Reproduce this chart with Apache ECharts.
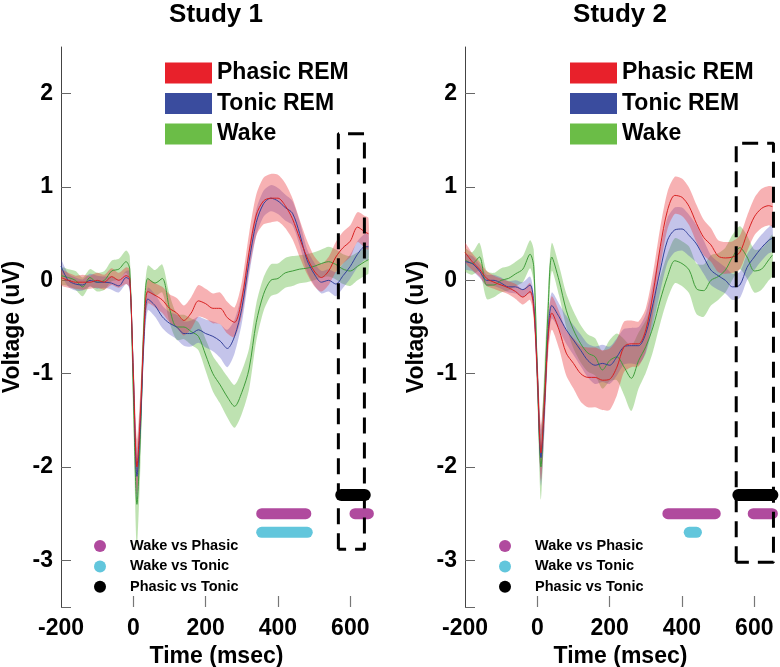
<!DOCTYPE html>
<html>
<head>
<meta charset="utf-8">
<script src="https://cdn.jsdelivr.net/npm/echarts@6/dist/echarts.min.js"></script>
<style>
html,body{margin:0;padding:0;background:#fff}
#chart{width:780px;height:667px}
</style>
</head>
<body>
<div id="chart"></div>
<script>
// time axis (msec), shared by both studies
const times = [-200,-180,-160,-140,-120,-100,-80,-60,-40,-20,-10,0,10,20,30,40,60,80,100,120,140,160,180,200,220,240,260,280,300,320,340,360,380,400,420,440,460,480,500,520,540,560,580,600,620,640,650]

// Study 1 means and SEM
const s1Phasic = [0.03,0.0,-0.02,-0.02,-0.02,0.0,-0.02,0.04,0.0,0.05, 0.02,-1.0,-2.0,-1.4,-0.5,-0.12, -0.16,-0.21,-0.3,-0.35,-0.43,-0.35,-0.22,-0.25,-0.3,-0.3,-0.4,-0.45, -0.2,0.3,0.7,0.85,0.88,0.88,0.8,0.66,0.45,0.25,0.1,0.03,0.1,0.25,0.35,0.42,0.57,0.52,0.5]
const s1PhasicSem = [0.08,0.08,0.07,0.08,0.07,0.08,0.08,0.09,0.08,0.09, 0.1,0.2,0.3,0.25,0.15,0.13, 0.13,0.14,0.15,0.16,0.16,0.17,0.17,0.16,0.16,0.17,0.17,0.16, 0.18,0.2,0.22,0.25,0.26,0.25,0.24,0.22,0.2,0.18,0.16,0.15,0.15,0.16,0.17,0.17,0.16,0.17,0.17]
const s1Tonic = [0.15,0.0,-0.04,-0.05,0.0,-0.02,-0.02,-0.03,-0.06,0.03, 0.0,-1.0,-2.1,-1.5,-0.6,-0.2, -0.27,-0.39,-0.46,-0.5,-0.57,-0.57,-0.53,-0.57,-0.6,-0.65,-0.73,-0.6, -0.3,0.2,0.62,0.82,0.88,0.85,0.78,0.72,0.5,0.22,0.07,-0.02,0.0,-0.04,0.05,0.15,0.28,0.36,0.36]
const s1TonicSem = [0.07,0.07,0.07,0.06,0.07,0.07,0.06,0.07,0.07,0.07, 0.1,0.2,0.3,0.25,0.14,0.12, 0.12,0.12,0.12,0.13,0.13,0.14,0.14,0.15,0.16,0.18,0.2,0.18, 0.16,0.15,0.14,0.14,0.14,0.14,0.14,0.13,0.13,0.12,0.12,0.12,0.12,0.13,0.13,0.13,0.14,0.14,0.14]
const s1Wake = [0.05,0.03,0.0,-0.07,0.03,-0.02,0.0,0.1,0.12,0.2, 0.12,-1.2,-2.4,-1.6,-0.4,0.02, -0.03,0.02,-0.3,-0.5,-0.5,-0.55,-0.6,-0.8,-1.0,-1.12,-1.25,-1.35, -1.2,-0.95,-0.45,-0.15,0.0,0.02,0.08,0.1,0.12,0.13,0.15,0.18,0.2,0.17,0.12,0.1,0.15,0.2,0.22]
const s1WakeSem = [0.09,0.09,0.1,0.1,0.09,0.1,0.1,0.11,0.11,0.12, 0.14,0.3,0.45,0.35,0.18,0.14, 0.14,0.15,0.15,0.14,0.13,0.14,0.15,0.17,0.19,0.2,0.22,0.23, 0.23,0.22,0.2,0.18,0.17,0.16,0.16,0.16,0.15,0.15,0.15,0.15,0.16,0.16,0.16,0.16,0.15,0.15,0.15]

// Study 2 means and SEM
const s2Phasic = [0.3,0.2,0.12,0.02,-0.02,-0.05,-0.08,-0.12,-0.18,-0.12, -0.3,-1.0,-1.85,-1.3,-0.6,-0.35, -0.53,-0.78,-0.89,-1.0,-1.04,-1.04,-1.07,-1.06,-0.93,-0.71,-0.68,-0.68, -0.53,-0.14,0.36,0.75,0.91,0.89,0.79,0.61,0.46,0.38,0.26,0.24,0.25,0.3,0.5,0.68,0.77,0.8,0.79]
const s2PhasicSem = [0.1,0.09,0.08,0.08,0.07,0.07,0.07,0.08,0.08,0.09, 0.12,0.2,0.3,0.25,0.2,0.18, 0.2,0.24,0.27,0.3,0.32,0.32,0.32,0.33,0.3,0.27,0.25,0.24, 0.23,0.22,0.21,0.2,0.2,0.2,0.2,0.2,0.19,0.18,0.17,0.17,0.17,0.18,0.19,0.2,0.21,0.21,0.21]
const s2Tonic = [0.2,0.18,0.1,0.0,0.0,-0.03,-0.07,-0.07,-0.1,-0.05, -0.25,-1.0,-1.9,-1.35,-0.55,-0.27, -0.39,-0.53,-0.64,-0.75,-0.86,-0.91,-0.89,-0.91,-0.82,-0.71,-0.7,-0.7, -0.57,-0.25,0.11,0.43,0.54,0.55,0.48,0.39,0.25,0.11,0.05,0.0,-0.07,-0.05,0.14,0.25,0.35,0.43,0.45]
const s2TonicSem = [0.08,0.08,0.07,0.06,0.06,0.06,0.06,0.07,0.08,0.09, 0.1,0.2,0.3,0.25,0.16,0.14, 0.14,0.15,0.16,0.17,0.18,0.2,0.2,0.2,0.2,0.19,0.19,0.2, 0.21,0.22,0.23,0.24,0.24,0.23,0.22,0.2,0.18,0.16,0.15,0.14,0.14,0.14,0.14,0.14,0.14,0.14,0.14]
const s2Wake = [0.22,0.18,0.25,-0.05,-0.05,0.0,0.02,0.07,0.12,0.28, 0.15,-1.0,-2.0,-1.2,-0.3,0.25, 0.0,-0.32,-0.53,-0.68,-0.78,-0.82,-0.96,-0.86,-0.82,-0.93,-1.05,-0.86, -0.71,-0.5,-0.21,0.04,0.21,0.18,0.11,-0.09,-0.11,0.0,0.04,0.11,0.25,0.35,0.25,0.1,0.12,0.22,0.27]
const s2WakeSem = [0.12,0.12,0.15,0.15,0.13,0.13,0.13,0.13,0.14,0.15, 0.18,0.25,0.35,0.3,0.2,0.15, 0.16,0.18,0.2,0.2,0.2,0.2,0.2,0.22,0.25,0.3,0.35,0.3, 0.28,0.26,0.25,0.24,0.24,0.24,0.25,0.27,0.28,0.27,0.25,0.24,0.24,0.23,0.23,0.23,0.22,0.22,0.22]

// significant windows [from, to] in msec
const s1WakePhasic = [[355,477],[613,650]]
const s1WakeTonic = [[355,481]]
const s1PhasicTonic = [[575,640]]
const s2WakePhasic = [[361,492],[597,650]]
const s2WakeTonic = [[420,440]]
const s2PhasicTonic = [[556,650]]
// levels of the significance rows (uV)
const sigLevels = {'Phasic vs Tonic': -2.3, 'Wake vs Phasic': -2.5, 'Wake vs Tonic': -2.7}

// dashed windows [from, to, low, high]
const s1Window = [567, 639, -2.88, 1.57]
const s2Window = [550, 653, -3.02, 1.47]

const yTicks = [-3.5,-3,-2,-1,0,1,2]
const yLabels = [-3,-2,-1,0,1,2]
const xTicks = [0,200,400,600]
const xLabels = [-200,0,200,400,600]

const FONT = 'Liberation Sans, Arial, Helvetica, sans-serif'
const RED = '#e8212b', BLUE = '#3a4c9e', GREEN = '#6bbd47'
const MAG = '#b04a9e', CYAN = '#62c6dc'

// shaded mean +/- sem band, drawn as one polygon through the axis scales
function band(idx, mean, sem, fill) {
    return {type:'custom', xAxisIndex:idx, yAxisIndex:idx, silent:true, z:1, clip:true,
        data:mean.map((m,i)=>[times[i], m - sem[i], m + sem[i]]),
        encode:{x:0, y:[1,2]},
        renderItem:function(params, api){
            if (params.dataIndex !== 0) return null
            let up = [], lo = []
            for (let i = 0; i < times.length; i++) {
                up.push(api.coord([times[i], mean[i] + sem[i]]))
                lo.push(api.coord([times[i], mean[i] - sem[i]]))
            }
            return {type:'polygon', shape:{points:up.concat(lo.reverse()), smooth:0.25},
                style:{fill:fill, stroke:null}}
        }}
}
function meanLine(idx, name, mean, color) {
    return {type:'line', name:name, xAxisIndex:idx, yAxisIndex:idx,
        data:mean.map((m,i)=>[times[i], m]), smooth:0.3, symbol:'none',
        lineStyle:{color:color, width:1}, itemStyle:{color:color}, z:3}
}
function sigBar(idx, name, spans, color, width) {
    let pts = []
    spans.forEach((s,k)=>{
        if (k > 0) pts.push([s[0]-1, '-'])
        pts.push([s[0], sigLevels[name]], [s[1], sigLevels[name]])
    })
    return {type:'line', name:name, xAxisIndex:idx, yAxisIndex:idx, data:pts, symbol:'none',
        lineStyle:{color:color, width:width, cap:'round'}, itemStyle:{color:color}, z:4, clip:false}
}
function windowBox(idx, w) {
    return {type:'line', xAxisIndex:idx, yAxisIndex:idx, symbol:'none', z:5, silent:true,
        data:[[w[0],w[2]],[w[0],w[3]],[w[1],w[3]],[w[1],w[2]],[w[0],w[2]]],
        lineStyle:{color:'#000', width:3, type:[16,9]}}
}

let series = []
;[
    [s1Phasic,s1PhasicSem,s1Tonic,s1TonicSem,s1Wake,s1WakeSem],
    [s2Phasic,s2PhasicSem,s2Tonic,s2TonicSem,s2Wake,s2WakeSem]
].forEach((d,idx)=>{
    series.push(band(idx,d[4],d[5],'rgba(100,185,70,0.42)'))
    series.push(band(idx,d[2],d[3],'rgba(70,70,190,0.32)'))
    series.push(band(idx,d[0],d[1],'rgba(235,50,55,0.38)'))
    series.push(meanLine(idx,'Wake',d[4],'#3f9c3a'))
    series.push(meanLine(idx,'Tonic REM',d[2],'#33409a'))
    series.push(meanLine(idx,'Phasic REM',d[0],'#d82020'))
})
series.push(sigBar(0,'Phasic vs Tonic',s1PhasicTonic,'#000',12))
series.push(sigBar(0,'Wake vs Phasic',s1WakePhasic,MAG,11))
series.push(sigBar(0,'Wake vs Tonic',s1WakeTonic,CYAN,11))
series.push(sigBar(1,'Phasic vs Tonic',s2PhasicTonic,'#000',12))
series.push(sigBar(1,'Wake vs Phasic',s2WakePhasic,MAG,11))
series.push(sigBar(1,'Wake vs Tonic',s2WakeTonic,CYAN,11))
series.push(windowBox(0,s1Window))
series.push(windowBox(1,s2Window))

const bold = {fontFamily:FONT, fontWeight:'bold', color:'#000'}
function xAxis(idx) {
    return {type:'value', gridIndex:idx, min:-200, max:660,
        // the bottom line itself is not drawn, only the ticks
        axisLine:{show:true, onZero:false, lineStyle:{color:'rgba(0,0,0,0)'}},
        axisTick:{show:true, inside:true, length:11, customValues:xTicks, lineStyle:{color:'#777', width:1.2}},
        axisLabel:Object.assign({fontSize:23, margin:10, customValues:xLabels}, bold),
        splitLine:{show:false},
        name:'Time (msec)', nameLocation:'middle', nameGap:35,
        nameTextStyle:Object.assign({fontSize:23}, bold)}
}
function yAxis(idx) {
    return {type:'value', gridIndex:idx, min:-3.5, max:2.5,
        axisLine:{show:true, onZero:false, lineStyle:{color:'#444', width:1}},
        axisTick:{inside:true, length:10, customValues:yTicks, lineStyle:{color:'#666'}},
        axisLabel:Object.assign({fontSize:23, margin:8, customValues:yLabels}, bold),
        splitLine:{show:false},
        name:'Voltage (uV)', nameLocation:'middle', nameGap:37,
        nameTextStyle:Object.assign({fontSize:23}, bold)}
}
function stateLegend(left) {
    return {left:left, top:61.5, padding:0, orient:'vertical', itemWidth:47, itemHeight:21, itemGap:7.5,
        selectedMode:false, icon:'rect',
        textStyle:Object.assign({fontSize:23}, bold),
        data:[
            {name:'Phasic REM', itemStyle:{color:RED}},
            {name:'Tonic REM', itemStyle:{color:BLUE}},
            {name:'Wake', itemStyle:{color:GREEN}}
        ]}
}
function sigLegend(left) {
    return {left:left, top:538.5, padding:0, orient:'vertical', itemWidth:50, itemHeight:12, itemGap:5.4,
        selectedMode:false, icon:'circle',
        textStyle:Object.assign({fontSize:14.5}, bold),
        data:[
            {name:'Wake vs Phasic', itemStyle:{color:MAG}},
            {name:'Wake vs Tonic', itemStyle:{color:CYAN}},
            {name:'Phasic vs Tonic', itemStyle:{color:'#000'}}
        ]}
}

let myChart = echarts.init(document.getElementById('chart'))
let option = {
    animation:false,
    backgroundColor:'#fff',
    title:[
        {text:'Study 1', left:216, top:2, padding:0, textAlign:'center', textStyle:Object.assign({fontSize:26}, bold)},
        {text:'Study 2', left:620, top:2, padding:0, textAlign:'center', textStyle:Object.assign({fontSize:26}, bold)}
    ],
    grid:[
        {left:61, top:47, width:311, height:560, outerBoundsMode:'none'},
        {left:465, top:47, width:311, height:560, outerBoundsMode:'none'}
    ],
    xAxis:[xAxis(0), xAxis(1)],
    yAxis:[yAxis(0), yAxis(1)],
    legend:[stateLegend(165), stateLegend(570), sigLegend(94), sigLegend(499)],
    series:series
}
myChart.setOption(option)
</script>
</body>
</html>
